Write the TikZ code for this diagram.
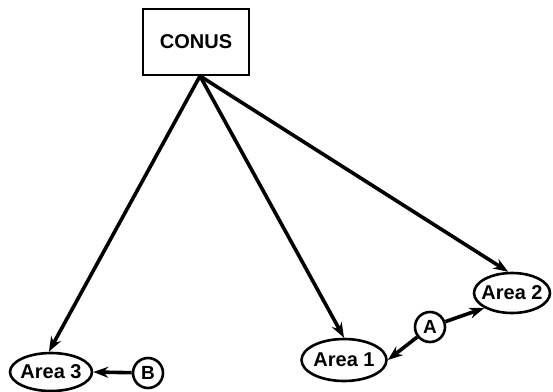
\documentclass[tikz,border=0pt]{standalone}
\usepackage{fontspec}
\setmainfont{Liberation Sans}
\usetikzlibrary{shapes.geometric,arrows.meta}
\begin{document}
\begin{tikzpicture}[x=1pt,y=-1pt,
  lbl/.style={font=\bfseries\fontsize{20}{22}\selectfont},
  box/.style={draw,line width=2.6pt,minimum width=106pt,minimum height=66pt,lbl},
  area/.style={draw,ellipse,line width=2.6pt,inner xsep=-10pt,inner ysep=-3pt,lbl},
  letter/.style={draw,circle,line width=2.6pt,minimum size=30pt,inner sep=0pt,font=\bfseries\fontsize{19}{20}\selectfont},
  conn/.style={line width=3.6pt,-{Stealth[length=15pt,width=11pt]}}]
\useasboundingbox (0,0) rectangle (553,391);
\node[box] (conus) at (196,42) {CONUS};
\coordinate (src) at (200,76);
\node[area,minimum width=82pt,minimum height=38pt] (a3) at (51,372) {Area 3};
\node[area,minimum width=85pt,minimum height=42pt] (a1) at (344,360) {Area 1};
\node[area,minimum width=76pt,minimum height=40pt] (a2) at (512,293) {Area 2};
\node[letter] (A) at (430,327) {A};
\node[letter] (B) at (148,373) {B};
\draw[conn] (src) -- (a3.96);
\draw[conn] (src) -- (a1.north);
\draw[conn] (src) -- (a2.100);
\draw[conn] (B) -- (a3.east);
\draw[conn] (A) -- (a2.south west);
\draw[conn] (A) -- (a1.east);
\end{tikzpicture}
\end{document}
